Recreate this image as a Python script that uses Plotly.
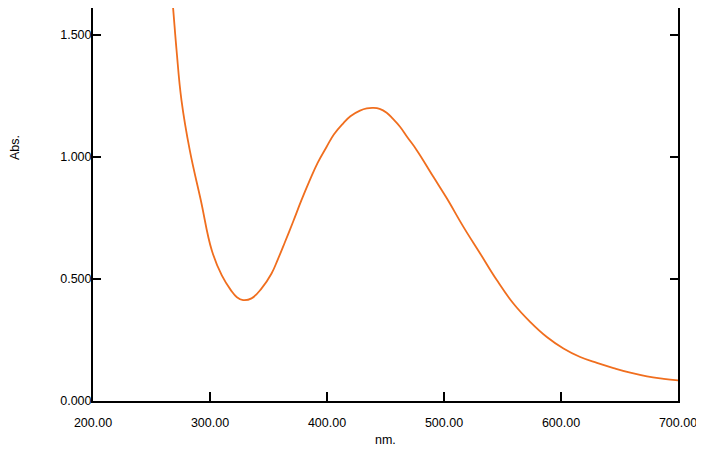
import plotly.graph_objects as go

wavelength = [265.0, 268.4, 271.4, 275.6, 282.7, 292.1, 301.5, 310.1, 317.8, 323.0,
              328.3, 335.5, 344.1, 352.6, 358.0, 364.0, 371.1, 378.0, 385.4, 392.0,
              399.7, 406.0, 413.9, 420.0, 428.2, 434.0, 439.6, 445.0, 451.0, 456.0,
              462.4, 469.0, 476.7, 490.9, 502.4, 516.6, 530.9, 545.1, 559.3, 573.6,
              587.9, 602.1, 616.4, 630.7, 644.9, 659.2, 673.5, 687.8, 700.0]
absorbance = [1.80, 1.612, 1.437, 1.232, 1.027, 0.823, 0.617, 0.514, 0.454, 0.425,
              0.413, 0.420, 0.461, 0.522, 0.580, 0.650, 0.735, 0.820, 0.905, 0.975,
              1.041, 1.092, 1.137, 1.166, 1.189, 1.198, 1.200, 1.196, 1.180, 1.157,
              1.123, 1.078, 1.027, 0.918, 0.830, 0.713, 0.604, 0.495, 0.399, 0.324,
              0.262, 0.215, 0.180, 0.156, 0.135, 0.116, 0.101, 0.091, 0.084]

x_ticks = [200, 300, 400, 500, 600, 700]
y_ticks = [0.0, 0.5, 1.0, 1.5]

fig = go.Figure()
fig.add_trace(go.Scatter(
    x=wavelength, y=absorbance, mode="lines",
    line=dict(color="rgb(240,110,30)", width=1.8, shape="spline", smoothing=1.2),
    hoverinfo="skip", showlegend=False,
))

font = dict(family="Liberation Sans, Arial, sans-serif", size=12.5, color="black")

fig.update_layout(
    width=704, height=439,
    margin=dict(l=85, r=34, t=0, b=46),
    plot_bgcolor="white", paper_bgcolor="white",
    font=font,
    showlegend=False,
    xaxis=dict(
        range=[200, 700], tickvals=x_ticks, ticktext=[f"{v:.2f}" for v in x_ticks],
        showgrid=False, zeroline=False, showline=True, linecolor="black", linewidth=2,
        ticks="inside", ticklen=9, tickwidth=1.5, tickcolor="black", mirror=False,
        tickfont=font, ticklabelstandoff=9,
    ),
    yaxis=dict(
        range=[0, 1.609], tickvals=y_ticks, ticktext=[f"{v:.3f}" for v in y_ticks],
        showgrid=False, zeroline=False, showline=True, linecolor="black", linewidth=2,
        ticks="inside", ticklen=8, tickwidth=1.5, tickcolor="black", mirror="ticks",
        tickfont=font, ticklabelstandoff=-3,
    ),
    annotations=[
        dict(text="nm.", x=0.5, y=-0.099, xref="paper", yref="paper",
             showarrow=False, font=font, xanchor="center", yanchor="middle"),
        dict(text="Abs.", x=-0.133, y=0.644, xref="paper", yref="paper",
             showarrow=False, font=font, textangle=-90, xanchor="center", yanchor="middle"),
    ],
)

fig.write_html("out.html")
